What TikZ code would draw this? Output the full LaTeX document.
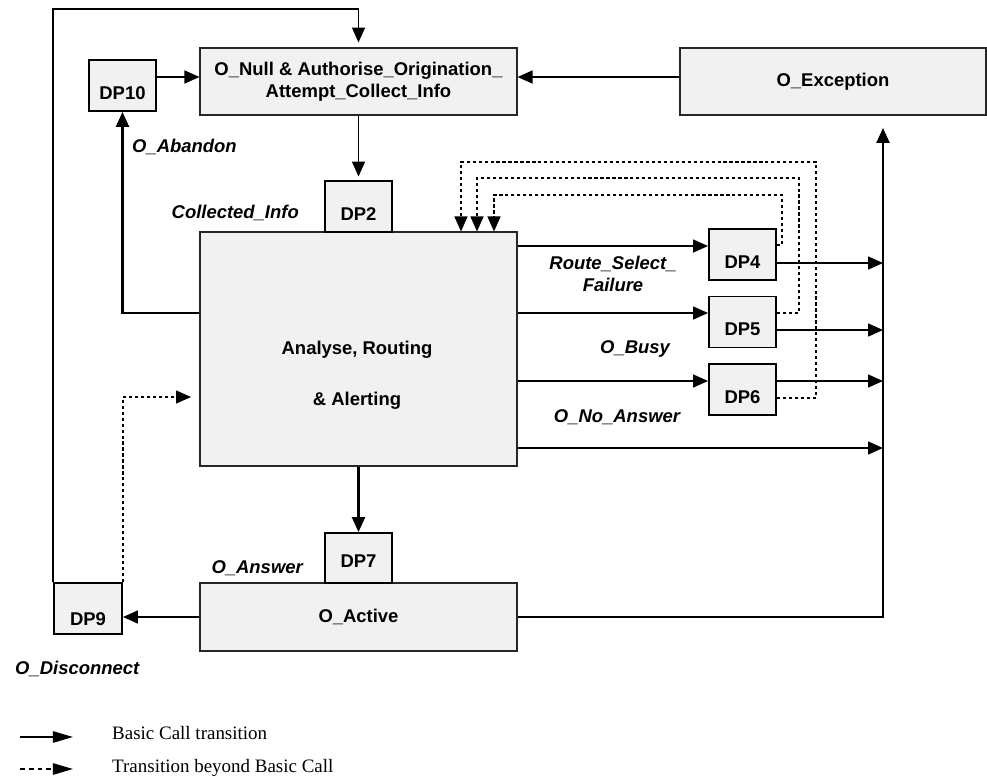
\documentclass[tikz,border=0pt]{standalone}
\usepackage{fontspec}
\setmainfont{Liberation Serif}
\setsansfont{Liberation Sans}
\usepackage{tikz}
\usetikzlibrary{arrows.meta,positioning,calc}
\definecolor{boxfill}{gray}{0.945}
\tikzset{
	lbl/.style={font=\sffamily\bfseries\fontsize{10.5}{12.5}\selectfont},
	tlbl/.style={font=\sffamily\bfseries\itshape\fontsize{10.5}{12.5}\selectfont},
	legtxt/.style={font=\fontsize{10.8}{13}\selectfont, anchor=base west},
	statebox/.style={lbl, draw=black!85, line width=0.7pt, fill=boxfill, inner sep=0pt, align=center},
	dpbox/.style={lbl, draw=black, line width=1.1pt, fill=boxfill, inner sep=0pt, minimum width=1.34cm, minimum height=1.02cm, text height=0.54cm, text depth=0pt},
	arr/.style={-{Triangle[length=8.5pt,width=7.4pt]}, line width=0.75pt},
	thickarr/.style={arr, line width=1.3pt},
	dotarr/.style={arr, dash pattern=on 1.8pt off 1.6pt},
	legarr/.style={-{Triangle[length=11.5pt,width=6.5pt]}, line width=0.9pt},
}

\begin{document}
\begin{tikzpicture}[x=0.02cm, y=-0.02cm]
		\useasboundingbox (0,0) rectangle (987,778);
		% states
		\node[statebox, minimum width=6.34cm, minimum height=1.34cm] (onull) at (358.5,81.5) {O\_Null \& Authorise\_Origination\_\\Attempt\_Collect\_Info};
		\node[statebox, minimum width=6.12cm, minimum height=1.34cm] (oexc) at (833,81.5) {O\_Exception};
		\node[statebox, minimum width=6.34cm, minimum height=4.68cm] (analyse) at (358.5,349) {};
		\node[lbl, align=center] (analysetxt) at (357,375.5) {Analyse, Routing\\[0.58cm]\& Alerting};
		\node[statebox, minimum width=6.34cm, minimum height=1.36cm] (oactive) at (358.5,617) {O\_Active};
		% detection points
		\node[dpbox] (dp10) at (122.5,85.5) {DP10};
		\node[dpbox] (dp2) at (358.5,206.5) {DP2};
		\node[dpbox] (dp4) at (742.5,254.5) {DP4};
		\node[dpbox] (dp5) at (742.5,322) {DP5};
		\node[dpbox] (dp6) at (742.5,389.5) {DP6};
		\node[dpbox, minimum height=1.0cm, text height=0.39cm] (dp7) at (358.5,558) {DP7};
		\node[dpbox, minimum width=1.36cm, text height=0.66cm] (dp9) at (88,608.5) {DP9};
		\coordinate (railtop) at (883,128);
		\coordinate (dotin) at (191,397);
		% basic call transitions
		\draw[arr, shorten >=2.8pt] (dp9.north west) |- (onull.north |- 0,9) -- (onull.north);
		\draw[arr] (dp10.east |- 0,77) -- (onull.west |- 0,77);
		\draw[arr] (oexc.west |- 0,77) -- (onull.east |- 0,77);
		\draw[arr, shorten >=2pt] (onull.south) -- (dp2.north);
		\draw[thickarr] (analyse.west |- 0,313) -| (dp10.south);
		\draw[arr] (analyse.east |- 0,246) -- (dp4.west |- 0,246);
		\draw[arr] (analyse.east |- 0,313) -- (dp5.west |- 0,313);
		\draw[arr] (analyse.east |- 0,381) -- (dp6.west |- 0,381);
		\draw[arr] (dp4.east |- 0,263) -- (railtop |- 0,263);
		\draw[arr] (dp5.east |- 0,330) -- (railtop |- 0,330);
		\draw[arr] (dp6.east |- 0,381) -- (railtop |- 0,381);
		\draw[arr] (analyse.east |- 0,448) -- (railtop |- 0,448);
		\draw[thickarr] (oactive.east) -| (railtop);
		\draw[thickarr] (analyse.south) -- (dp7.north);
		\draw[arr] (oactive.west) -- (dp9.east |- oactive.west);
		% transitions beyond basic call
		\draw[dotarr] (dp9.north east) |- (dotin);
		\draw[dotarr] (dp4.east |- 0,245) -| (782,195) -| (analyse.north -| 494,0);
		\draw[dotarr] (dp5.east |- 0,313) -| (799,178) -| (analyse.north -| 477,0);
		\draw[dotarr] (dp6.east |- 0,398) -| (816,162) -| (analyse.north -| 461,0);
		% event labels
		\node[tlbl, anchor=base west] (abandonlbl) at (126,152) {O\_Abandon};
		\node[tlbl, anchor=base east] (collectedlbl) at (305,218) {Collected\_Info};
		\node[tlbl, align=center] (rsflbl) at (613,273.5) {Route\_Select\_\\Failure};
		\node[tlbl, anchor=base] (busylbl) at (635,353) {O\_Busy};
		\node[tlbl, anchor=base] (noanslbl) at (617,422) {O\_No\_Answer};
		\node[tlbl, anchor=base east] (answerlbl) at (309,573) {O\_Answer};
		\node[tlbl, anchor=base west] (disclbl) at (9,674) {O\_Disconnect};
		% legend
		\coordinate (legsolid) at (20,737);
		\coordinate (legsolidend) at (73,737);
		\coordinate (legdot) at (20,769);
		\coordinate (legdotend) at (73,769);
		\draw[legarr] (legsolid) -- (legsolidend);
		\draw[legarr, dash pattern=on 2.8pt off 2.2pt] (legdot) -- (legdotend);
		\node[legtxt] (legsolidtxt) at (106,739) {Basic Call transition};
		\node[legtxt] (legdottxt) at (106,772) {Transition beyond Basic Call};
	\end{tikzpicture}
\end{document}
